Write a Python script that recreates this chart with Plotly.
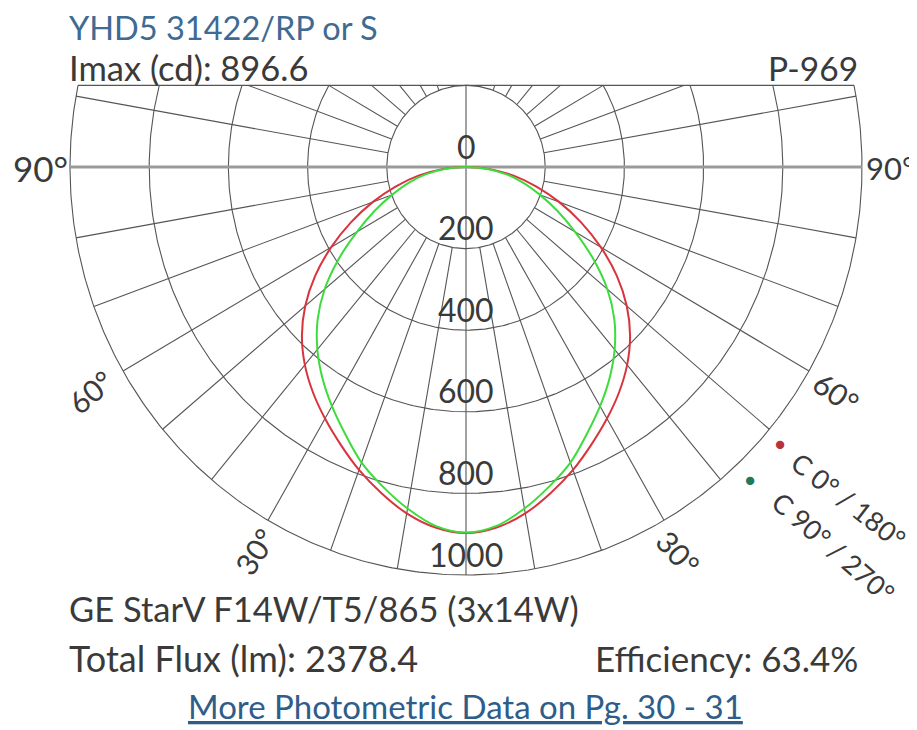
import numpy as np
import plotly.graph_objects as go

# ---------------- data ----------------
angles = [0, 5, 10, 15, 20, 25, 30, 35, 40, 45, 50, 55, 60, 65, 70, 75, 80, 85, 90]
c0_180 = [897, 887, 862, 827, 790, 750, 712, 674, 633, 586, 530, 465, 393, 320, 250, 183, 122, 60, 0]
c90_270 = [896, 883, 850, 811, 771, 722, 677, 632, 584, 530, 466, 392, 318, 255, 198, 150, 104, 54, 0]
ring_values = [200, 400, 600, 800, 1000]
ring_labels = ["0", "200", "400", "600", "800", "1000"]
ring_label_values = [0, 200, 400, 600, 800, 1000]
spoke_angles = list(range(10, 180, 10))
angle_labels = ["90°", "60°", "30°"]

# ---------------- geometry / style ----------------
OFF = 8                    # default page margin of the html body
W, H = 917 - OFF, 730 - OFF
CX, CY = 466 - OFF, 167 - OFF   # pixel position of the pole inside the figure
SX, SY = 0.396, 0.408      # px per cd
TOP = 200                  # grid is clipped at this height (cd) above the pole
RMAX = 1000
GRID = "#555555"
FONT = "Lato"
TXT = "#3a3a3a"

def px2x(p):
    return (p - CX) / SX

def py2y(p):
    return (CY - p) / SY

fig = go.Figure()

def add_line(xs, ys, color=GRID, width=1.1):
    fig.add_trace(go.Scatter(x=xs, y=ys, mode="lines", hoverinfo="skip",
                             line=dict(color=color, width=width), showlegend=False))

# rings
for r in ring_values:
    if r <= TOP:
        t = np.radians(np.linspace(0, 360, 361))
    else:
        tm = np.degrees(np.arccos(-TOP / r))
        t = np.radians(np.linspace(-tm, tm, 361))
    add_line(r * np.sin(t), -r * np.cos(t))

# spokes (angle measured from nadir), both sides
xs, ys = [], []
for a in spoke_angles:
    if a == 90:
        continue
    th = np.radians(a)
    r0 = ring_values[0]
    r1 = RMAX
    if np.cos(th) < 0:
        r1 = min(RMAX, TOP / -np.cos(th))
    for s in (-1, 1):
        xs += [s * r0 * np.sin(th), s * r1 * np.sin(th), None]
        ys += [-r0 * np.cos(th), -r1 * np.cos(th), None]
add_line(xs, ys)

# vertical axis, top edge
add_line([0, 0], [TOP, -RMAX])
xe = np.sqrt(RMAX ** 2 - TOP ** 2)
add_line([-xe, xe], [TOP, TOP])
# horizontal 90° line
add_line([-RMAX, RMAX], [0, 0], color="#9a9a9a", width=3)

# curves
def curve(vals):
    a = np.radians(angles)
    v = np.array(vals, dtype=float)
    xl = -v * np.sin(a)
    yl = -v * np.cos(a)
    x = np.concatenate([xl[::-1], -xl[1:]])
    y = np.concatenate([yl[::-1], yl[1:]])
    return x, y

x, y = curve(c0_180)
fig.add_trace(go.Scatter(x=x, y=y, mode="lines", line=dict(color="#d8343e", width=2, shape="spline"),
                         showlegend=False, hoverinfo="skip"))
x, y = curve(c90_270)
fig.add_trace(go.Scatter(x=x, y=y, mode="lines", line=dict(color="#3ddc3d", width=2, shape="spline"),
                         showlegend=False, hoverinfo="skip"))

ann = []
# ring value labels
for lab, v in zip(ring_labels, ring_label_values):
    ann.append(dict(x=0, y=-v, xref="x", yref="y", text=lab, showarrow=False, yshift=21,
                    font=dict(family=FONT, size=32, color=TXT), xanchor="center", yanchor="middle"))

def tann(px, py, text, size=30, color=TXT, xanchor="left", angle=0):
    ann.append(dict(x=(px - OFF) / W, y=1 - (py - OFF) / H, xref="paper", yref="paper", text=text,
                    showarrow=False, font=dict(family=FONT, size=size, color=color), xanchor=xanchor,
                    yanchor="middle", textangle=angle, borderpad=0))

tann(68, 28, "YHD5 31422/RP or S", size=32.5, color="#3f6b93")
tann(68, 68, "Imax (cd): 896.6", size=34.5)
tann(859, 68, "P-969", size=33.5, xanchor="right")
tann(69, 168, angle_labels[0], size=35, xanchor="right")
tann(865, 168, angle_labels[0], size=31, xanchor="left")
tann(90, 392, angle_labels[1], size=30, xanchor="center", angle=-40)
tann(836, 392, angle_labels[1], size=30, xanchor="center", angle=35)
tann(255, 551, angle_labels[2], size=30, xanchor="center", angle=-57)
tann(678, 552, angle_labels[2], size=30, xanchor="center", angle=48)
# legend
tann(780, 443, "●", size=17, color="#b5333c", xanchor="center")
tann(750, 479, "●", size=17, color="#1d7a5c", xanchor="center")
tann(849, 500, "C 0° / 180°", size=27, xanchor="center", angle=38)
tann(834, 547, "C 90° / 270°", size=27, xanchor="center", angle=41)
# footer
tann(68, 608, "GE StarV F14W/T5/865 (3x14W)", size=34.5)
tann(68, 658, "Total Flux (lm): 2378.4", size=36)
tann(859, 658, "Efficiency: 63.4%", size=35, xanchor="right")
tann(465, 706, "<u>More Photometric Data on Pg. 30 - 31</u>", size=33, color="#2f5d8a", xanchor="center")

fig.update_layout(
    width=W, height=H, margin=dict(l=0, r=0, t=0, b=0),
    paper_bgcolor="white", plot_bgcolor="white", annotations=ann,
    xaxis=dict(range=[px2x(0), px2x(W)], visible=False, fixedrange=True),
    yaxis=dict(range=[py2y(H), py2y(0)], visible=False, fixedrange=True),
    showlegend=False,
)
fig.write_html("out.html")
